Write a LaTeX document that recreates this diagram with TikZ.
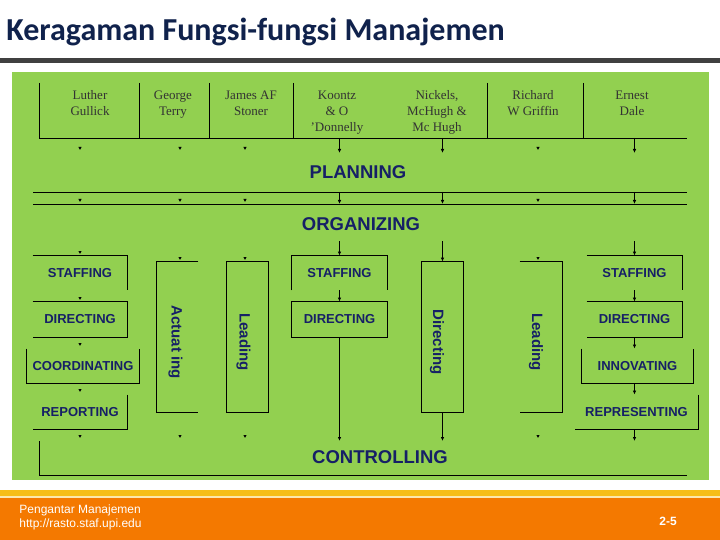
\documentclass[tikz,border=0pt]{standalone}
\usepackage{fontspec}
\setmainfont{Liberation Serif}
\setsansfont{Liberation Sans}
\newfontfamily\titlefont{Carlito}
\usepackage{xcolor}
\usetikzlibrary{arrows.meta}

\definecolor{slidegreen}{RGB}{146,208,80}
\definecolor{funcnavy}{RGB}{22,32,102}
\definecolor{titlenavy}{RGB}{16,34,76}
\definecolor{bargrey}{RGB}{64,64,64}
\definecolor{footyellow}{RGB}{246,190,24}
\definecolor{footorange}{RGB}{244,121,0}

% header names, one row per line
\newcommand{\authorlines}[1]{\begin{tabular}{@{}c@{}}#1\end{tabular}}

\begin{document}
\begin{tikzpicture}[x=1pt,y=-1pt, line width=0.9pt,
        author/.style={font=\fontsize{13}{16}\selectfont, text=black!80, anchor=north, inner sep=0pt}, % authors in the header
        func/.style={font=\sffamily\bfseries\fontsize{13}{15}\selectfont, text=funcnavy},
        mainfunc/.style={font=\sffamily\bfseries\fontsize{18.5}{20}\selectfont, text=funcnavy},
        vfunc/.style={font=\sffamily\bfseries\fontsize{15}{17}\selectfont, text=funcnavy, rotate=-90},
        fbox/.style 2 args={func, minimum width=#1, minimum height=#2, inner sep=0pt},
        arr/.style={-{Latex[length=4pt,width=3.5pt]}},
        stub/.style={-{Latex[length=3pt,width=3.5pt]}}
    ]
    % slide background
    \useasboundingbox (0,0) rectangle (720,540);
    \fill[white] (0,0) rectangle (720,540);
    \fill[bargrey] (0,58) rectangle (720,63);
    \fill[slidegreen] (12,72) rectangle (709,480);
    \fill[footyellow] (0,490) rectangle (720,496);
    \fill[footyellow!35] (0,496) rectangle (720,498);
    \fill[footorange] (0,498) rectangle (720,540);

    \node[anchor=west, inner sep=0pt, font=\titlefont\bfseries\fontsize{32}{34}\selectfont, text=titlenavy] (title) at (6,32) {Keragaman Fungsi-fungsi Manajemen};

    % header with the authors
    \node[author] (gullick) at (90,88) {\authorlines{Luther\\Gullick}};
    \node[author] (terry) at (173,88) {\authorlines{George\\Terry}};
    \node[author] (stoner) at (251,88) {\authorlines{James AF\\Stoner}};
    \node[author] (koontz) at (337,88) {\authorlines{Koontz\\\& O\\'Donnelly}};
    \node[author] (nickels) at (437,88) {\authorlines{Nickels,\\McHugh \&\\Mc Hugh}};
    \node[author] (griffin) at (533,88) {\authorlines{Richard\\W Griffin}};
    \node[author] (dale) at (632,88) {\authorlines{Ernest\\Dale}};
    \coordinate (hdL) at (39,138);
    \coordinate (hdR) at (687,138);
    \draw (hdL) -- (hdR);
    \foreach \x in {39,139,209,293,487,583}
        \draw (\x,83) -- (\x,138);

    % planning and organizing
    \node[mainfunc] (plan) at (358,172) {PLANNING};
    \coordinate (plA) at (33,192);
    \coordinate (plB) at (33,204);
    \draw (plA) -- (plA -| hdR);
    \draw (plB) -- (plB -| hdR);
    \node[mainfunc] (org) at (361,224) {ORGANIZING};
    \coordinate (orgL) at (0,241);

    % left column
    \node[fbox={94pt}{34pt}] (stfA) at (80,273) {STAFFING};
    \node[fbox={94pt}{35pt}] (dirA) at (80,319.5) {DIRECTING};
    \node[fbox={112pt}{34pt}] (coord) at (83,366) {COORDINATING};
    \node[fbox={94pt}{34pt}] (repA) at (80,412) {REPORTING};
    \draw (stfA.north west) -- (stfA.north east) -- (stfA.south east);
    \draw (dirA.north west) -- (dirA.north east) -- (dirA.south east) -- (dirA.south west);
    \draw (coord.north west) -- (coord.south west) -- (coord.south east) -- (coord.north east);
    \draw (repA.north east) -- (repA.south east) -- (repA.south west);

    % vertical boxes
    \node[fbox={41pt}{150pt}] (act) at (177.5,337) {};
    \node[fbox={41pt}{150pt}] (leadA) at (247.5,337) {};
    \node[fbox={41pt}{150pt}] (dirV) at (442.5,337) {};
    \node[fbox={42pt}{150pt}] (leadB) at (541,337) {};
    \draw (act.north east) -- (act.north west) -- (act.south west) -- (act.south east);
    \draw (leadA.north west) rectangle (leadA.south east);
    \draw (dirV.north west) rectangle (dirV.south east);
    \draw (leadB.north west) -- (leadB.north east) -- (leadB.south east) -- (leadB.south west);
    \node[vfunc] (actT) at (175.5,342) {Actuat ing};
    \node[vfunc] (leadAT) at (243.5,342) {Leading};
    \node[vfunc] (dirVT) at (437,342) {Directing};
    \node[vfunc] (leadBT) at (536,342) {Leading};

    % middle column
    \node[fbox={95pt}{34pt}] (stfB) at (339.5,273) {STAFFING};
    \node[fbox={95pt}{35pt}] (dirB) at (339.5,319.5) {DIRECTING};
    \draw (stfB.south west) -- (stfB.north west) -- (stfB.north east) -- (stfB.south east);
    \draw (dirB.north west) rectangle (dirB.south east);

    % right column
    \node[fbox={95pt}{34pt}] (stfC) at (634.5,273) {STAFFING};
    \node[fbox={95pt}{35pt}] (dirC) at (634.5,319.5) {DIRECTING};
    \node[fbox={111pt}{34pt}] (innov) at (637.5,366) {INNOVATING};
    \node[fbox={123pt}{34pt}] (repC) at (636.5,412) {REPRESENTING};
    \draw (stfC.north west) -- (stfC.north east) -- (stfC.south east);
    \draw (dirC.north west) -- (dirC.north east) -- (dirC.south east) -- (dirC.south west);
    \draw (innov.north west) -- (innov.south west) -- (innov.south east) -- (innov.north east);
    \draw (repC.north east) -- (repC.south east) -- (repC.south west);

    % controlling
    \node[mainfunc] (ctrl) at (380,457) {CONTROLLING};
    \coordinate (ctTop) at (39,441);
    \coordinate (ctBot) at (39,475);
    \draw (ctTop) -- (ctBot) -- (ctBot -| hdR);

    % arrows
    \foreach \n in {stfB,dirV,stfC} {
        \draw[arr] (\n |- hdL) -- ++(0,15);
        \draw[arr] (\n |- plA) -- (\n |- plB);
        \draw[arr] (\n |- orgL) -- (\n.north);
    }
    \draw[arr] (stfB) -- (dirB);
    \draw[arr] (dirB) -- (dirB |- ctTop);
    \draw[arr] (dirV) -- (dirV |- ctTop);
    \draw[arr] (stfC) -- (dirC);
    \draw[arr] (dirC.south) -- (dirC.south |- innov.north);
    \draw[arr] (innov.south -| dirC) -- (repC.north -| dirC);
    \draw[arr] (repC.south -| dirC) -- (dirC |- ctTop);
    % little heads with no shaft
    \foreach \x/\y in {80/150,180/150,245/150,538/150,80/202,180/202,245/202,538/202,
            80/254,180/260,245/260,538/260,80/300,80/346,80/392,80/438,180/438,245/438,538/438}
        \draw[stub] (\x,\y-3) -- (\x,\y);

    % footer
    \node[anchor=west, align=left, inner sep=0pt, font=\sffamily\fontsize{12}{14}\selectfont, text=white] (foot) at (19,517) {Pengantar Manajemen\\http://rasto.staf.upi.edu};
    \node[font=\sffamily\bfseries\fontsize{12}{14}\selectfont, text=white] (page) at (668,521) {2-5};
\end{tikzpicture}
\end{document}
